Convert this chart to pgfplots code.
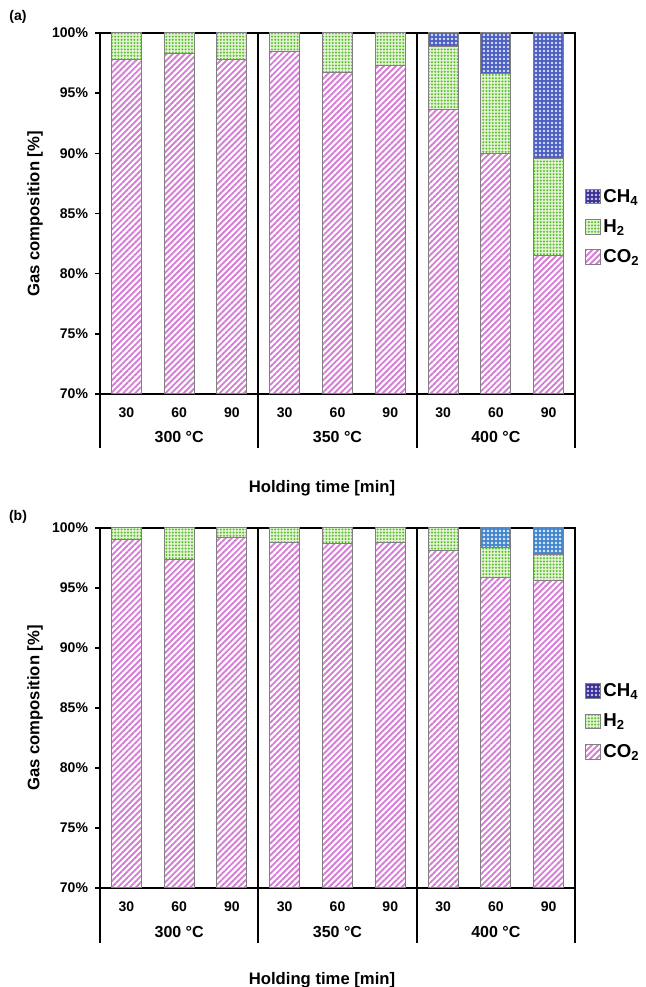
\documentclass[border=0pt]{standalone}
\usepackage{fontspec}
\setmainfont{Liberation Sans}
\usepackage{pgfplots}
\pgfplotsset{compat=1.18}
\usetikzlibrary{patterns.meta}
\definecolor{co2}{HTML}{D57DD5}
\definecolor{htwo}{HTML}{5CBF2A}
\definecolor{h2bg}{HTML}{E4F4D8}
\definecolor{ch4a}{HTML}{4A5EC4}
\definecolor{ch4b}{HTML}{4286CF}
\definecolor{ch4leg}{HTML}{3A2F9A}
\definecolor{edge}{HTML}{808080}
\pgfplotsset{
  co2style/.style={draw=edge, line width=0.75pt, fill=white,
     postaction={pattern color=co2, pattern={Lines[angle=45,distance=3.2pt,line width=1.4pt]}}},
  h2style/.style={draw=edge, line width=0.75pt, fill=h2bg,
     postaction={pattern color=htwo, pattern={Dots[distance=2.4pt,radius=0.85pt]}}},
  ch4astyle/.style={draw=edge, line width=0.75pt, fill=ch4a,
     postaction={pattern color=ch4a!20, pattern={Dots[distance=3pt,radius=1pt]}}},
  ch4bstyle/.style={draw=edge, line width=0.75pt, fill=ch4b,
     postaction={pattern color=ch4b!15, pattern={Dots[distance=3pt,radius=1pt]}}},
  ch4legstyle/.style={draw=edge, line width=0.75pt, fill=ch4leg,
     postaction={pattern color=ch4leg!25, pattern={Dots[distance=3pt,radius=1pt]}}},
  gasaxis/.style={
    scale only axis, width=356.25pt,
    xmin=-0.5, xmax=8.5, ymin=70, ymax=100,
    ybar stacked, bar width=22.5pt,
    clip mode=individual,
    axis line style={line width=1.4pt},
    xtick={0,...,8}, xticklabels={30,60,90,30,60,90,30,60,90},
    xtick style={draw=none},
    xticklabel style={font=\fontsize{10.5}{12}\selectfont\bfseries, yshift=-3pt},
    ytick={70,75,...,100}, yticklabels={70\%,75\%,80\%,85\%,90\%,95\%,100\%},
    ytick pos=left, tick align=outside, major tick length=3.5pt,
    ytick style={line width=1.2pt, black},
    yticklabel style={font=\fontsize{10.5}{12}\selectfont\bfseries, xshift=-2pt},
    legend image code/.code={\draw[##1] (0pt,-5.5pt) rectangle (11pt,5.5pt);},
    legend style={draw=none, fill=none, at={(1.012,0.583)}, anchor=north west,
      font=\fontsize{14}{16}\selectfont\bfseries, row sep=7.5pt,
      cells={anchor=west}},
  },
}
\begin{document}
\begin{tikzpicture}
\useasboundingbox (0,0) rectangle (483.75pt,740.25pt);
% ---------------- (a)
\begin{axis}[gasaxis, height=270.75pt, anchor=south west, at={(75pt,444.75pt)}]
\addlegendimage{ch4legstyle}\addlegendentry{CH\textsubscript{4}}
\addlegendimage{h2style}\addlegendentry{H\textsubscript{2}}
\addlegendimage{co2style}\addlegendentry{CO\textsubscript{2}}
\addplot[co2style, forget plot] coordinates {(0,97.8) (1,98.3) (2,97.8) (3,98.5) (4,96.7) (5,97.3) (6,93.65) (7,90.0) (8,81.5)};
\addplot[h2style, forget plot] coordinates {(0,2.2) (1,1.7) (2,2.2) (3,1.5) (4,3.3) (5,2.7) (6,5.25) (7,6.6) (8,8.1)};
\addplot[ch4astyle, forget plot] coordinates {(0,0) (1,0) (2,0) (3,0) (4,0) (5,0) (6,1.1) (7,3.4) (8,10.4)};
\draw[line width=1.4pt] (axis cs:2.5,100) -- ([yshift=-40.5pt]axis cs:2.5,70);
\draw[line width=1.4pt] (axis cs:5.5,100) -- ([yshift=-40.5pt]axis cs:5.5,70);
\draw[line width=1.4pt] (axis cs:-0.5,70) -- ([yshift=-40.5pt]axis cs:-0.5,70);
\draw[line width=1.4pt] (axis cs:8.5,70) -- ([yshift=-40.5pt]axis cs:8.5,70);
\node[font=\fontsize{12}{14}\selectfont\bfseries] at ([yshift=-32pt]axis cs:1,70) {300 °C};
\node[font=\fontsize{12}{14}\selectfont\bfseries] at ([yshift=-32pt]axis cs:4,70) {350 °C};
\node[font=\fontsize{12}{14}\selectfont\bfseries] at ([yshift=-32pt]axis cs:7,70) {400 °C};
\end{axis}
% ---------------- (b)
\begin{axis}[gasaxis, height=270pt, anchor=south west, at={(75pt,74.25pt)}]
\addlegendimage{ch4legstyle}\addlegendentry{CH\textsubscript{4}}
\addlegendimage{h2style}\addlegendentry{H\textsubscript{2}}
\addlegendimage{co2style}\addlegendentry{CO\textsubscript{2}}
\addplot[co2style, forget plot] coordinates {(0,99.0) (1,97.4) (2,99.2) (3,98.8) (4,98.7) (5,98.8) (6,98.1) (7,95.9) (8,95.6)};
\addplot[h2style, forget plot] coordinates {(0,1.0) (1,2.6) (2,0.8) (3,1.2) (4,1.3) (5,1.2) (6,1.9) (7,2.5) (8,2.2)};
\addplot[ch4bstyle, forget plot] coordinates {(0,0) (1,0) (2,0) (3,0) (4,0) (5,0) (6,0) (7,1.6) (8,2.2)};
\draw[line width=1.4pt] (axis cs:2.5,100) -- ([yshift=-41.25pt]axis cs:2.5,70);
\draw[line width=1.4pt] (axis cs:5.5,100) -- ([yshift=-41.25pt]axis cs:5.5,70);
\draw[line width=1.4pt] (axis cs:-0.5,70) -- ([yshift=-41.25pt]axis cs:-0.5,70);
\draw[line width=1.4pt] (axis cs:8.5,70) -- ([yshift=-41.25pt]axis cs:8.5,70);
\node[font=\fontsize{12}{14}\selectfont\bfseries] at ([yshift=-33pt]axis cs:1,70) {300 °C};
\node[font=\fontsize{12}{14}\selectfont\bfseries] at ([yshift=-33pt]axis cs:4,70) {350 °C};
\node[font=\fontsize{12}{14}\selectfont\bfseries] at ([yshift=-33pt]axis cs:7,70) {400 °C};
\end{axis}
% labels
\node[font=\fontsize{10.5}{12}\selectfont\bfseries] at (13.5pt,727.5pt) {(a)};
\node[font=\fontsize{10.5}{12}\selectfont\bfseries] at (13.5pt,352.5pt) {(b)};
\node[font=\fontsize{12.5}{14}\selectfont\bfseries, rotate=90] at (26.25pt,579.75pt) {Gas composition [\%]};
\node[font=\fontsize{12.5}{14}\selectfont\bfseries, rotate=90] at (26.25pt,209.25pt) {Gas composition [\%]};
\node[font=\fontsize{12.5}{14}\selectfont\bfseries] at (241.5pt,374.25pt) {Holding time [min]};
\node[font=\fontsize{12.5}{14}\selectfont\bfseries] at (241.5pt,5.25pt) {Holding time [min]};
\end{tikzpicture}
\end{document}
